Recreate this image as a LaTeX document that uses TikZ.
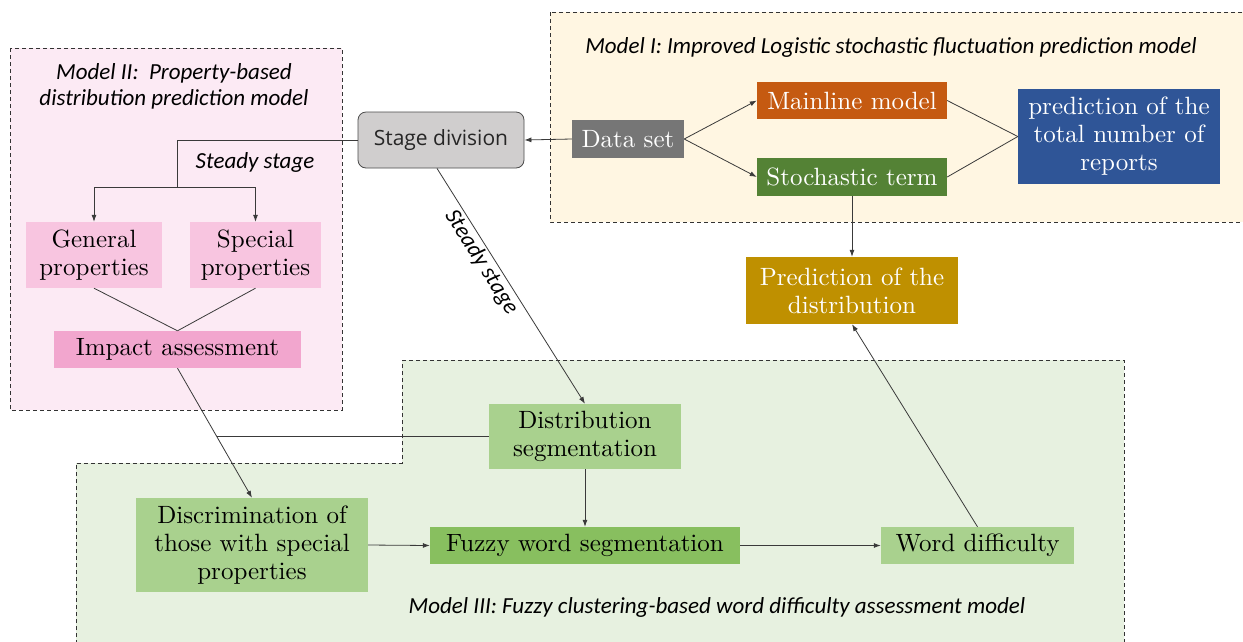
\documentclass[tikz,border=0pt]{standalone}
\usepackage{fontspec}
\usetikzlibrary{arrows.meta,calc}
\newfontfamily\labfont{Carlito}
\newfontfamily\stagefont{Open Sans}
\newfontfamily\boxfont{lmroman10-regular}[Extension=.otf]
\definecolor{bgII}{HTML}{FCEAF4}
\definecolor{bgI}{HTML}{FFF6E2}
\definecolor{bgIII}{HTML}{E7F1E0}
\definecolor{pinkA}{HTML}{F8C5E0}
\definecolor{pinkB}{HTML}{F2A6CE}
\definecolor{stagegray}{HTML}{D0CECE}
\definecolor{datagray}{HTML}{767676}
\definecolor{mainorange}{HTML}{C55A11}
\definecolor{stochgreen}{HTML}{548235}
\definecolor{totalblue}{HTML}{2F5597}
\definecolor{distgold}{HTML}{BF9000}
\definecolor{lightgreen}{HTML}{A9D18E}
\definecolor{fuzzygreen}{HTML}{88BF5F}
\definecolor{linegray}{HTML}{3A3A3A}
\tikzset{
  box/.style={draw=none, align=center, inner sep=2pt, font=\boxfont\fontsize{25}{28}\selectfont},
  wbox/.style={box, text=white},
  conn/.style={draw=linegray, line width=0.8pt},
  arr/.style={conn, -{Latex[length=7pt,width=5pt]}},
  frame/.style={draw=black!80, line width=0.8pt, dash pattern=on 4pt off 3pt},
  lab/.style={font=\labfont\itshape\fontsize{23}{27}\selectfont, align=center},
}
\begin{document}
\begin{tikzpicture}[x=1pt,y=-1pt]
\path[use as bounding box, clip] (0,0) rectangle (1243,641);
\fill[white] (0,0) rectangle (1243,641);
% frames
\path[frame, fill=bgII] (10,48) rectangle (342,410);
\path[frame, fill=bgI] (550,12) rectangle (1260,222);
\path[frame, fill=bgIII] (402,360) -- (1124,360) -- (1124,660) -- (76,660) -- (76,463) -- (402,463) -- cycle;
% titles
\node[lab] (t2) at (174,86) {Model II:\ \ Property-based\\[-1pt] distribution prediction model};
\node[lab] (t1) at (891,47) {Model I: Improved Logistic stochastic fluctuation prediction model};
\node[lab] (t3) at (717,607) {Model III: Fuzzy clustering-based word difficulty assessment model};
% nodes
\node[draw=black!70, line width=0.8pt, fill=stagegray, rounded corners=8pt, minimum width=166pt, minimum height=56pt, font=\stagefont\fontsize{21}{25}\selectfont, text=black!85] (stage) at (441,140) {Stage division};
\node[wbox, fill=datagray, minimum width=112pt, minimum height=38pt] (data) at (628,139) {Data set};
\node[wbox, fill=mainorange, minimum width=190pt, minimum height=37pt] (main) at (852,100.5) {Mainline model};
\node[wbox, fill=stochgreen, minimum width=190pt, minimum height=38pt] (stoch) at (852,177) {Stochastic term};
\node[wbox, fill=totalblue, minimum width=202pt, minimum height=95pt] (total) at (1119,136.5) {prediction of the\\ total number of\\ reports};
\node[wbox, fill=distgold, minimum width=212pt, minimum height=67pt] (pdist) at (852,290.5) {Prediction of the\\ distribution};
\node[box, fill=pinkA, minimum width=136pt, minimum height=66pt] (gen) at (94,255) {General\\ properties};
\node[box, fill=pinkA, minimum width=131pt, minimum height=66pt] (spec) at (255.5,255) {Special\\ properties};
\node[box, fill=pinkB, minimum width=247pt, minimum height=37pt] (imp) at (177.5,349.5) {Impact assessment};
\node[box, fill=lightgreen, minimum width=192pt, minimum height=65pt] (dist) at (585,436.5) {Distribution\\ segmentation};
\node[box, fill=lightgreen, minimum width=232pt, minimum height=94pt] (disc) at (252,545) {Discrimination of\\ those with special\\ properties};
\node[box, fill=fuzzygreen, minimum width=310pt, minimum height=37pt] (fuzzy) at (585,545.5) {Fuzzy word segmentation};
\node[box, fill=lightgreen, minimum width=193pt, minimum height=37pt] (word) at (977.5,545.5) {Word difficulty};
% connectors
\draw[arr] (data.west) -- (stage.east);
\draw[arr] (data.east) -- (main.west);
\draw[arr] (data.east) -- (stoch.west);
\draw[conn] (main.east) -- (total.west);
\draw[conn] (stoch.east) -- (total.west);
\draw[arr] (stoch.south) -- (pdist.north);
\draw[arr] (word.north) -- (pdist.south);
\coordinate (split) at (177,187);
\draw[conn] (stage.west) -| (split);
\draw[arr] (split) -| (gen.north);
\draw[arr] (split) -| (spec.north);
\node[lab] (ss1) at (255,162) {Steady stage};
\draw[conn] (gen.south) -- (imp.north);
\draw[conn] (spec.south) -- (imp.north);
\draw[arr] (imp.south) -- (disc.north);
\coordinate (merge) at ($(imp.south)!0.53!(disc.north)$);
\draw[conn] (dist.west) -- (dist.west -| merge);
\draw[arr] ($(stage.south)+(-4,0)$) -- node[lab, sloped, below, pos=0.37, inner sep=2pt] (ss2) {Steady stage} (dist.north);
\draw[arr] (disc.east) -- (fuzzy.west);
\draw[arr] (dist.south) -- (fuzzy.north);
\draw[arr] (fuzzy.east) -- (word.west);
\end{tikzpicture}
\end{document}
